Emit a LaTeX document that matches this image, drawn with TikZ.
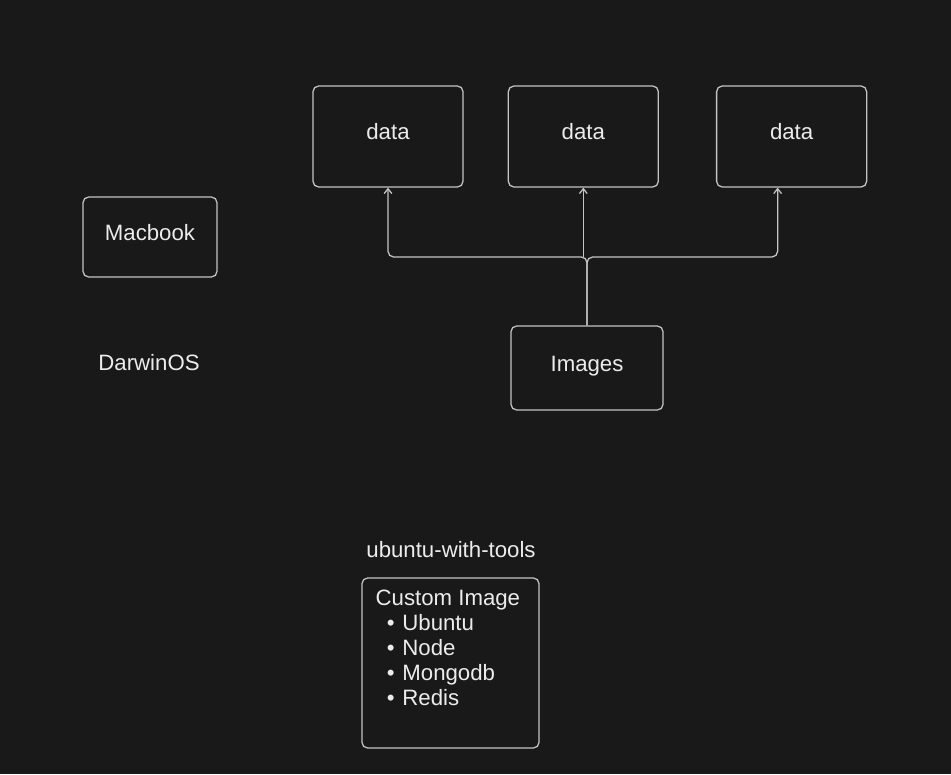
\documentclass[tikz,border=0pt]{standalone}
\usepackage{fontspec}
\setmainfont{Liberation Sans}
\usetikzlibrary{positioning,arrows.meta}
\definecolor{bg}{HTML}{191919}
\definecolor{edge}{HTML}{C4C4C4}
\definecolor{ink}{HTML}{ECECEC}

\begin{document}
\begin{tikzpicture}[
x=0.025cm, y=-0.025cm,
box/.style={rectangle, draw=edge, rounded corners=4pt, line width=0.9pt, text=ink, text height=11.5pt, text depth=7pt, font=\fontsize{15.8}{17.8}\selectfont},
txt/.style={text=ink, font=\fontsize{15.8}{17.8}\selectfont},
arr/.style={draw=edge, line width=0.9pt, rounded corners=4pt, -{Straight Barb[length=3.5pt,width=5.5pt]}}
]
\fill[bg] (0,0) rectangle (951,774);
\useasboundingbox (0,0) rectangle (951,774);

%Nodes
\node[box, minimum width=3.75cm, minimum height=2.525cm] (d1) at (388,136.5) {data};
\node[box, minimum width=3.75cm, minimum height=2.525cm] (d2) [right=1.1cm of d1] {data};
\node[box, minimum width=3.75cm, minimum height=2.525cm] (d3) [right=1.425cm of d2] {data};
\node[box, minimum width=3.35cm, minimum height=2cm]     (mac) at (150,237) {Macbook};
\node[txt]                                               (os)  at (149,363) {DarwinOS};
\node[box, minimum width=3.8cm, minimum height=2.1cm]    (img) at (587,368) {Images};
\node[txt]                                               (name) at (451,550) {ubuntu-with-tools};
\node[box, minimum width=4.425cm, minimum height=4.25cm] (custom) at (450.5,663) {};
\node[txt, anchor=north west, align=left, inner sep=0pt] (list) at ([xshift=0.35cm, yshift=-0.3cm]custom.north west)
  {Custom Image\\ \hspace*{8pt}\textbullet\hspace{5.5pt}Ubuntu\\ \hspace*{8pt}\textbullet\hspace{5.5pt}Node\\ \hspace*{8pt}\textbullet\hspace{5.5pt}Mongodb\\ \hspace*{8pt}\textbullet\hspace{5.5pt}Redis};
\coordinate (j) at (587,257);

%Lines
\draw[arr] (img.north) -- (j) -| (d1.south);
\draw[arr] (img.north) -- (j) -| ([xshift=-0.35cm]d3.south);
\draw[arr] (d2.south |- j) -- (d2.south);
\end{tikzpicture}
\end{document}
